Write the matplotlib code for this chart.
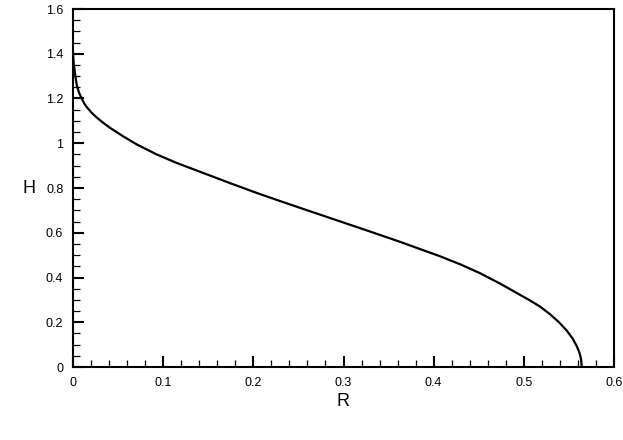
import numpy as np
import matplotlib
matplotlib.use("Agg")
import matplotlib.pyplot as plt
from matplotlib.ticker import MultipleLocator

plt.rcParams['font.family'] = ['Liberation Sans', 'DejaVu Sans']

# profile H(R)
R = [0.0, 0.0007, 0.0022, 0.0041, 0.0065, 0.0096, 0.0125, 0.0152, 0.0205,
     0.026, 0.033, 0.041, 0.056, 0.0706, 0.0928, 0.115, 0.1445, 0.174,
     0.2037, 0.233, 0.263, 0.285, 0.318, 0.345, 0.363, 0.374, 0.407, 0.430,
     0.451, 0.474, 0.496, 0.507, 0.518, 0.529, 0.539, 0.5475, 0.554,
     0.5586, 0.5615, 0.5632, 0.5639, 0.564]
H = [1.405, 1.36, 1.312, 1.262, 1.228, 1.200, 1.178, 1.162, 1.137,
     1.116, 1.093, 1.069, 1.030, 0.995, 0.950, 0.912, 0.867, 0.822,
     0.778, 0.737, 0.696, 0.666, 0.621, 0.584, 0.559, 0.543, 0.495, 0.458,
     0.420, 0.372, 0.322, 0.297, 0.270, 0.236, 0.200, 0.163, 0.128,
     0.094, 0.066, 0.040, 0.018, 0.0]

fig = plt.figure(figsize=(6.23, 4.40), dpi=100)
ax = fig.add_axes([73/623, 1 - 367/440, (614-73)/623, (367-9)/440])

ax.plot(R, H, color='black', lw=1.6, solid_joinstyle='round')

ax.set_xlim(0, 0.6)
ax.set_ylim(0, 1.6)
ax.xaxis.set_major_locator(MultipleLocator(0.1))
ax.xaxis.set_minor_locator(MultipleLocator(0.02))
ax.yaxis.set_major_locator(MultipleLocator(0.2))
ax.yaxis.set_minor_locator(MultipleLocator(0.05))
ax.xaxis.set_major_formatter(plt.FuncFormatter(lambda v, p: "%g" % round(v, 2)))
ax.yaxis.set_major_formatter(plt.FuncFormatter(lambda v, p: "%g" % round(v, 2)))

ax.tick_params(which='major', direction='in', length=8, width=1.5,
               labelsize=9, pad=7, top=False, right=False)
ax.tick_params(which='minor', direction='in', length=5, width=0.9,
               top=False, right=False)
for s in ax.spines.values():
    s.set_linewidth(1.5)

ax.set_xlabel('R', fontsize=13, labelpad=3)
ax.set_ylabel('H', fontsize=13, rotation=0, labelpad=12, va='center')

fig.savefig('out.png', dpi=100)
